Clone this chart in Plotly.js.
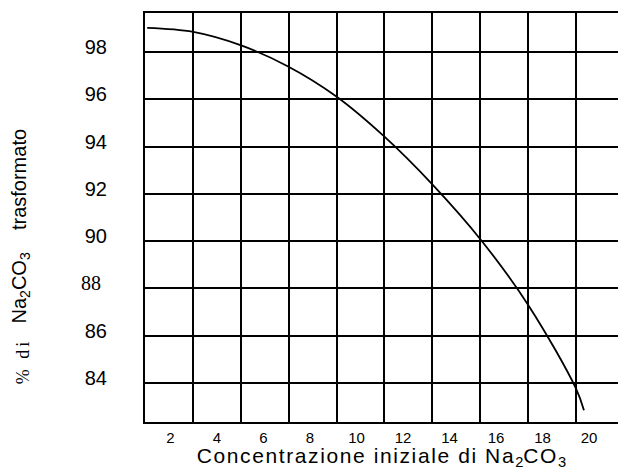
<!DOCTYPE html>
<html>
<head>
<meta charset="utf-8">
<script src="https://cdn.plot.ly/plotly-3.0.1.min.js"></script>
<style>html,body{margin:0;padding:0;background:#fff;}#chart{width:618px;height:470px;}</style>
</head>
<body>
<div id="chart"></div>
<script>
// Concentration (x) and % Na2CO3 transformed (y)
var concentrazione = [1.0, 2.98, 5.04, 7.06, 9.12, 11.19, 13.28, 15.36, 17.41, 19.44, 19.78];
var trasformato   = [99.02, 98.85, 98.28, 97.39, 96.13, 94.43, 92.38, 90.04, 87.26, 83.76, 82.85];

var xTickVals = [2, 4, 6, 8, 10, 12, 14, 16, 18, 20];
var xTickText = ['2', '4', '6', '8', '10', '12', '14', '16', '18', '20'];
var yTickVals = [84, 86, 88, 90, 92, 94, 96, 98];
var yTickText = ['84', '86', '88', '90', '92', '94', '96', '98'];
// the "88" label is printed in a serif face in the original
var serifTickIndex = 2;

var SANS = 'Liberation Sans, Arial, sans-serif';
var SERIF = 'Liberation Serif, Times New Roman, serif';

var data = [{
  x: concentrazione,
  y: trasformato,
  type: 'scatter',
  mode: 'lines',
  line: {color: '#000', width: 1.8, shape: 'spline', smoothing: 1},
  hoverinfo: 'skip',
  showlegend: false
}];

var shownTickText = yTickText.map(function (t, i) { return i === serifTickIndex ? ' ' : t; });

var LS = 'letter-spacing:1.6px';
var layout = {
  width: 618, height: 470,
  margin: {l: 144.5, r: 0, t: 12.7, b: 47.5},
  paper_bgcolor: '#fff', plot_bgcolor: '#fff',
  font: {family: SANS, color: '#000', size: 15},
  showlegend: false,
  xaxis: {
    range: [0.905, 21.245],
    tickmode: 'array', tickvals: xTickVals, ticktext: xTickText,
    showgrid: false, zeroline: false,
    minor: {tick0: 0.905, dtick: 2.0593, showgrid: true, gridcolor: '#000', gridwidth: 2, ticks: ''},
    showline: true, mirror: true, linecolor: '#000', linewidth: 2,
    ticks: '', ticklabelstandoff: 1,
    tickfont: {family: SANS, size: 15, color: '#000'},
    title: {
      text: '<span style="' + LS + '">Concentrazione iniziale di Na</span><sub>2</sub><span style="' + LS + '">CO</span><sub>3</sub>',
      font: {family: SANS, size: 21, color: '#000'}, standoff: 0
    }
  },
  yaxis: {
    range: [82.35, 99.65],
    tickmode: 'array', tickvals: yTickVals, ticktext: shownTickText,
    showgrid: true, gridcolor: '#000', gridwidth: 2,
    zeroline: false,
    showline: true, linecolor: '#000', linewidth: 2,
    ticks: '', ticklabelstandoff: 32, ticklabelshift: -5,
    tickfont: {family: SANS, size: 20, color: '#000'}
  },
  annotations: [{
    xref: 'paper', yref: 'y',
    x: -0.0898, y: yTickVals[serifTickIndex],
    xanchor: 'right', yanchor: 'middle', yshift: 5,
    showarrow: false,
    text: yTickText[serifTickIndex],
    font: {family: SERIF, size: 20, color: '#000'}
  }, {
    xref: 'paper', yref: 'paper',
    x: -0.263, y: 0.4795,
    xanchor: 'center', yanchor: 'middle',
    textangle: -90, showarrow: false,
    text: 'Na<sub>2</sub>CO<sub>3</sub>&nbsp;&nbsp;&nbsp;&nbsp;trasformato',
    font: {family: SANS, size: 20, color: '#000'}
  }, {
    xref: 'paper', yref: 'paper',
    x: -0.2587, y: 0.1476,
    xanchor: 'center', yanchor: 'middle',
    textangle: -90, showarrow: false,
    text: '<span style="letter-spacing:3px">% di</span>',
    font: {family: SERIF, size: 18, color: '#000'}
  }]
};

Plotly.newPlot('chart', data, layout, {displayModeBar: false, staticPlot: true});
</script>
</body>
</html>
